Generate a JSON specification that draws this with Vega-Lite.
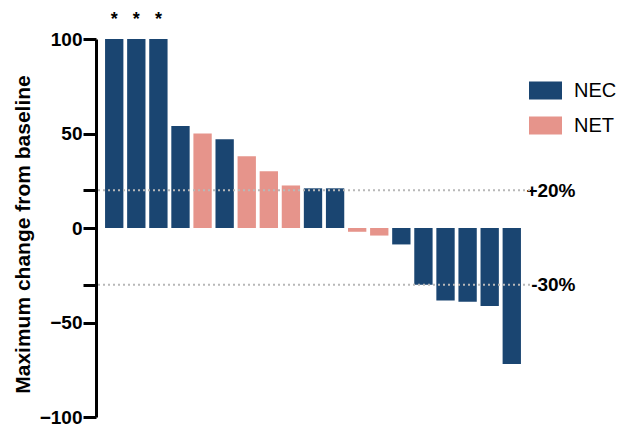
{
  "$schema": "https://vega.github.io/schema/vega-lite/v6.json",
  "width": 434,
  "height": 378,
  "autosize": {"type": "none"},
  "padding": {"left": 96, "top": 39, "right": 89, "bottom": 9},
  "config": {"font": "Liberation Sans", "view": {"stroke": null}},
  "datasets": {
    "bars": [
      {"id": 1, "value": 100, "type": "NEC", "star": "*"},
      {"id": 2, "value": 100, "type": "NEC", "star": "*"},
      {"id": 3, "value": 100, "type": "NEC", "star": "*"},
      {"id": 4, "value": 54, "type": "NEC", "star": ""},
      {"id": 5, "value": 50, "type": "NET", "star": ""},
      {"id": 6, "value": 47, "type": "NEC", "star": ""},
      {"id": 7, "value": 38, "type": "NET", "star": ""},
      {"id": 8, "value": 30, "type": "NET", "star": ""},
      {"id": 9, "value": 22.5, "type": "NET", "star": ""},
      {"id": 10, "value": 21, "type": "NEC", "star": ""},
      {"id": 11, "value": 21, "type": "NEC", "star": ""},
      {"id": 12, "value": -2, "type": "NET", "star": ""},
      {"id": 13, "value": -4, "type": "NET", "star": ""},
      {"id": 14, "value": -8.7, "type": "NEC", "star": ""},
      {"id": 15, "value": -30, "type": "NEC", "star": ""},
      {"id": 16, "value": -38.3, "type": "NEC", "star": ""},
      {"id": 17, "value": -39, "type": "NEC", "star": ""},
      {"id": 18, "value": -41.3, "type": "NEC", "star": ""},
      {"id": 19, "value": -72, "type": "NEC", "star": ""}
    ],
    "refs": [
      {"ref": 20, "label": "+20%"},
      {"ref": -30, "label": "-30%"}
    ]
  },
  "resolve": {"axis": {"y": "independent"}},
  "layer": [
    {
      "data": {"name": "bars"},
      "mark": {"type": "bar"},
      "encoding": {
        "x": {
          "field": "id",
          "type": "ordinal",
          "axis": null,
          "scale": {"paddingInner": 0.17, "paddingOuter": 0.41}
        },
        "y": {
          "field": "value",
          "type": "quantitative",
          "scale": {"domain": [-100, 100], "nice": false, "zero": false},
          "axis": {
            "orient": "left",
            "title": "Maximum change from baseline",
            "titleFontSize": 21,
            "titleFontWeight": "bold",
            "titleColor": "black",
            "titleX": -73,
            "titleY": 195,
            "titleAlign": "center",
            "titleBaseline": "middle",
            "values": [-100, -50, -30, 0, 20, 50, 100],
            "labelExpr": "datum.value == 20 || datum.value == -30 ? '' : datum.label",
            "labelFontSize": 19,
            "labelFontWeight": "bold",
            "labelColor": "black",
            "labelPadding": 1,
            "labelBaseline": "middle",
            "tickSize": 13,
            "tickWidth": 3,
            "tickColor": "black",
            "domainWidth": 3,
            "domainColor": "black",
            "grid": false,
            "labelFlush": false,
            "labelOverlap": false
          }
        },
        "color": {
          "field": "type",
          "type": "nominal",
          "scale": {"domain": ["NEC", "NET"], "range": ["#1a4571", "#e6948b"]},
          "legend": {
            "title": null,
            "orient": "none",
            "legendX": 433,
            "legendY": 35,
            "symbolType": "M-1,-0.545H1V0.545H-1Z",
            "symbolSize": 1089,
            "symbolStrokeWidth": 0,
            "labelFontSize": 20,
            "labelColor": "black",
            "labelOffset": 12,
            "rowPadding": 8
          }
        }
      }
    },
    {
      "data": {"name": "refs"},
      "mark": {"type": "rule", "color": "#b8b8b8", "strokeWidth": 2, "strokeDash": [2, 3]},
      "encoding": {
        "y": {
          "field": "ref",
          "type": "quantitative",
          "axis": {
            "orient": "right",
            "title": null,
            "values": [20, -30],
            "labelExpr": "datum.value == 20 ? '+20%' : '-30%'",
            "labelFontSize": 19,
            "labelFontWeight": "bold",
            "labelColor": "black",
            "labelAlign": "right",
            "labelBaseline": "middle",
            "labelPadding": 45,
            "ticks": false,
            "tickSize": 0,
            "domain": false,
            "grid": false,
            "labelFlush": false,
            "labelOverlap": false
          }
        }
      }
    },
    {
      "data": {"name": "bars"},
      "mark": {"type": "text", "fontSize": 18, "fontWeight": "bold", "baseline": "middle", "dy": -19, "color": "black"},
      "encoding": {
        "x": {"field": "id", "type": "ordinal"},
        "y": {"field": "value", "type": "quantitative", "axis": null},
        "text": {"field": "star"}
      }
    }
  ]
}
